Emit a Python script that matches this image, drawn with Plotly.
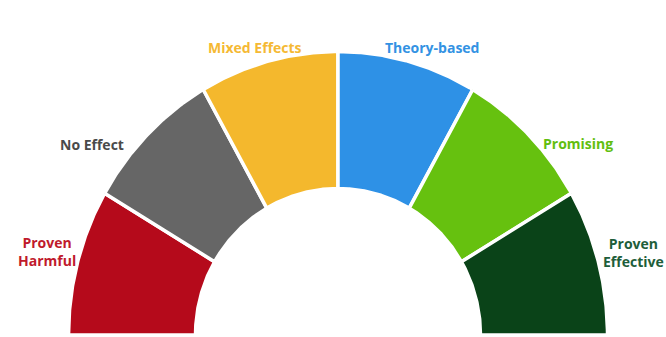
import numpy as np
import plotly.graph_objects as go

# Data
categories = ["Proven Harmful", "No Effect", "Mixed Effects", "Theory-based", "Promising", "Proven Effective"]
weights = [1, 1, 1, 1, 1, 1]
seg_colors = ["#B50A1B", "#666666", "#F4B82D", "#2E91E6", "#66C10F", "#0A4318"]
label_colors = ["#C01A2C", "#4A4A4A", "#F5B934", "#3392E3", "#62BE10", "#1E5E3A"]
label_texts = ["Proven<br>Harmful", "No Effect", "Mixed Effects", "Theory-based", "Promising", "Proven<br>Effective"]

# Geometry (plot units = pixels, origin at gauge centre)
RX_OUT, RY_OUT = 269.5, 283.5
RX_IN, RY_IN = 142.5, 146.5

fig = go.Figure()
total = sum(weights)
start = 180.0
for cat, w, col in zip(categories, weights, seg_colors):
    span = 180.0 * w / total
    a0, a1 = start, start - span
    t = np.radians(np.linspace(a0, a1, 80))
    xs = np.concatenate([RX_OUT * np.cos(t), RX_IN * np.cos(t[::-1])])
    ys = np.concatenate([RY_OUT * np.sin(t), RY_IN * np.sin(t[::-1])])
    xs = np.append(xs, xs[0]); ys = np.append(ys, ys[0])
    fig.add_trace(go.Scatter(x=xs, y=ys, mode="lines", fill="toself", fillcolor=col,
                             line=dict(color="white", width=3.5), hoverinfo="skip",
                             name=cat, showlegend=False))
    start = a1

# label placement (pixel offsets relative to gauge centre)
label_pos = [(-291, 84), (-246, 191), (-83, 288), (94, 288), (240, 192), (295, 83)]
for txt, col, (lx, ly) in zip(label_texts, label_colors, label_pos):
    fig.add_annotation(x=lx, y=ly, text=txt, showarrow=False, xanchor="center", yanchor="middle",
                       font=dict(family="Open Sans", size=14, color=col, weight="bold"))

fig.update_layout(
    width=666, height=337, margin=dict(l=0, r=0, t=0, b=0),
    paper_bgcolor="white", plot_bgcolor="white",
    xaxis=dict(range=[-338, 328], visible=False, fixedrange=True),
    yaxis=dict(range=[-2, 335], visible=False, fixedrange=True),
    showlegend=False,
)
fig.write_html("out.html")
